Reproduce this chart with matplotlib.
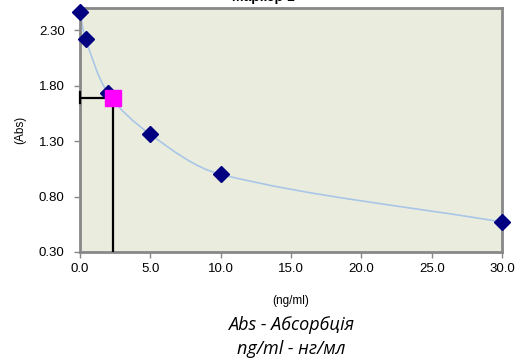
import numpy as np
import matplotlib
matplotlib.use('Agg')
import matplotlib.pyplot as plt
from matplotlib.path import Path
from matplotlib.patches import PathPatch

# standard curve points
conc = [0.0, 0.4, 2.0, 5.0, 10.0, 30.0]
absorb = [2.46, 2.22, 1.73, 1.36, 1.00, 0.57]

# sample reading
sample_conc = 2.35
sample_abs = 1.69

y_ticks = [0.30, 0.80, 1.30, 1.80, 2.30]
x_ticks = [0, 5, 10, 15, 20, 25, 30]

plt.rcParams['font.family'] = ['Liberation Sans', 'DejaVu Sans']

fig = plt.figure(figsize=(5.21, 3.6), dpi=100)
ax = fig.add_axes([0.1536, 0.30, 0.81, 0.678])
ax.set_facecolor('#eaeddd')

# smoothed line through the points (chord-length Catmull-Rom as bezier)
pts = np.column_stack([conc, absorb])
# work in pixel-ish units so smoothing looks like on screen
scale = np.array([422 / 30, 222 / 2.0])
sp = pts * scale
t = np.concatenate([[0], np.cumsum(np.linalg.norm(np.diff(sp, axis=0), axis=1))])
tang = []
for i in range(len(sp)):
    a = max(i - 1, 0)
    b = min(i + 1, len(sp) - 1)
    tang.append((sp[b] - sp[a]) / (t[b] - t[a]))
verts = [tuple(pts[0])]
codes = [Path.MOVETO]
for i in range(len(sp) - 1):
    h = t[i + 1] - t[i]
    c1 = (sp[i] + tang[i] * h / 3) / scale
    c2 = (sp[i + 1] - tang[i + 1] * h / 3) / scale
    verts += [tuple(c1), tuple(c2), tuple(pts[i + 1])]
    codes += [Path.CURVE4] * 3
ax.add_patch(PathPatch(Path(verts, codes), facecolor='none', edgecolor='#a9c6e8', lw=1.2, zorder=2))

# read-off lines
ax.plot([0, sample_conc], [sample_abs, sample_abs], color='black', lw=1.6, zorder=3)
ax.plot([sample_conc, sample_conc], [0.30, sample_abs], color='black', lw=1.6, zorder=3)
ax.plot([0, 0], [sample_abs - 0.05, sample_abs + 0.05], color='black', lw=1.6, zorder=3, clip_on=False)

ax.plot(conc, absorb, linestyle='none', marker='D', markersize=8.5, color='#000080', zorder=4, clip_on=False)
ax.plot([sample_conc], [sample_abs], linestyle='none', marker='s', markersize=12, color='#ff00ff', zorder=5, clip_on=False)

ax.set_xlim(0, 30)
ax.set_ylim(0.30, 2.50)
ax.set_xticks(x_ticks)
ax.set_xticklabels([f'{v:.1f}' for v in x_ticks])
ax.set_yticks(y_ticks)
ax.set_yticklabels([f'{v:.2f}' for v in y_ticks])
ax.tick_params(direction='out', length=4, width=1, color='#888888', labelsize=9.5, pad=4)
ax.tick_params(axis='y', pad=7)
for s in ax.spines.values():
    s.set_color('#888888')
    s.set_linewidth(2)

ax.set_xlabel('(ng/ml)', fontsize=8.5, labelpad=14)
ax.set_ylabel('(Abs)', fontsize=8.5, labelpad=9)

# title, cut at the top edge as in the source image
fig.text(0.505, 0.99, 'Маркер 1', ha='center', va='bottom', fontsize=10, fontweight='bold')
fig.text(0.559, 0.097, 'Abs - Абсорбція', ha='center', va='center', fontsize=13,
         style='italic', family=['Open Sans', 'DejaVu Sans'])
fig.text(0.559, 0.031, 'ng/ml - нг/мл', ha='center', va='center', fontsize=13,
         style='italic', family=['Open Sans', 'DejaVu Sans'])

fig.savefig('out.png', dpi=100)
